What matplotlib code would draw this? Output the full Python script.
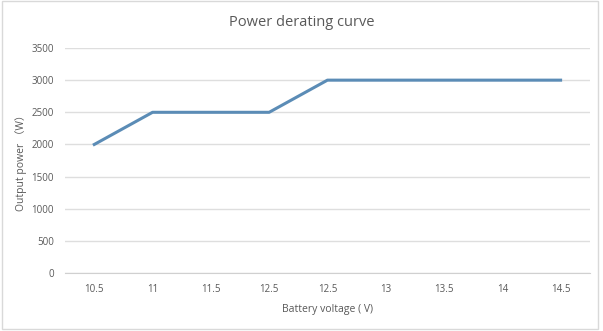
import numpy as np
import matplotlib
matplotlib.use("Agg")
import matplotlib.pyplot as plt

plt.rcParams['font.family'] = ['Open Sans', 'Noto Sans CJK SC', 'DejaVu Sans']

# categories as shown on the axis (12.5 appears twice in the original)
voltage_labels = ["10.5", "11", "11.5", "12.5", "12.5", "13", "13.5", "14", "14.5"]
output_power = [2000, 2500, 2500, 2500, 3000, 3000, 3000, 3000, 3000]
y_ticks = [0, 500, 1000, 1500, 2000, 2500, 3000, 3500]

text_color = "#595959"
line_color = "#5b8cb6"
grid_color = "#dedede"

fig = plt.figure(figsize=(6.03, 3.31), dpi=100)
ax = fig.add_axes([0.108, 0.175, 0.87, 0.68])

x = np.arange(len(voltage_labels))
ax.plot(x, output_power, color=line_color, linewidth=2.2, solid_joinstyle="round")

ax.set_xlim(-0.5, len(voltage_labels) - 0.5)
ax.set_ylim(0, 3500)
ax.set_xticks(x)
ax.set_xticklabels(voltage_labels)
ax.set_yticks(y_ticks)

ax.grid(axis="y", color=grid_color, linewidth=1)
ax.set_axisbelow(True)
for side in ["top", "right", "left"]:
    ax.spines[side].set_visible(False)
ax.spines["bottom"].set_color("#d0d0d0")
ax.tick_params(axis="both", length=0, labelsize=7, colors=text_color, pad=8)

ax.set_xlabel("Battery voltage ( V)", fontsize=7.5, color=text_color, labelpad=6)
ax.set_ylabel("Output power （W）", fontsize=7.5, color=text_color, labelpad=3)
fig.suptitle("Power derating curve", fontsize=10.5, color=text_color, y=0.955)

fig.patches.append(plt.Rectangle((0.003, 0.006), 0.988, 0.99, transform=fig.transFigure,
                                 fill=False, edgecolor="#d9d9d9", linewidth=1))

fig.savefig("out.png", dpi=100)
